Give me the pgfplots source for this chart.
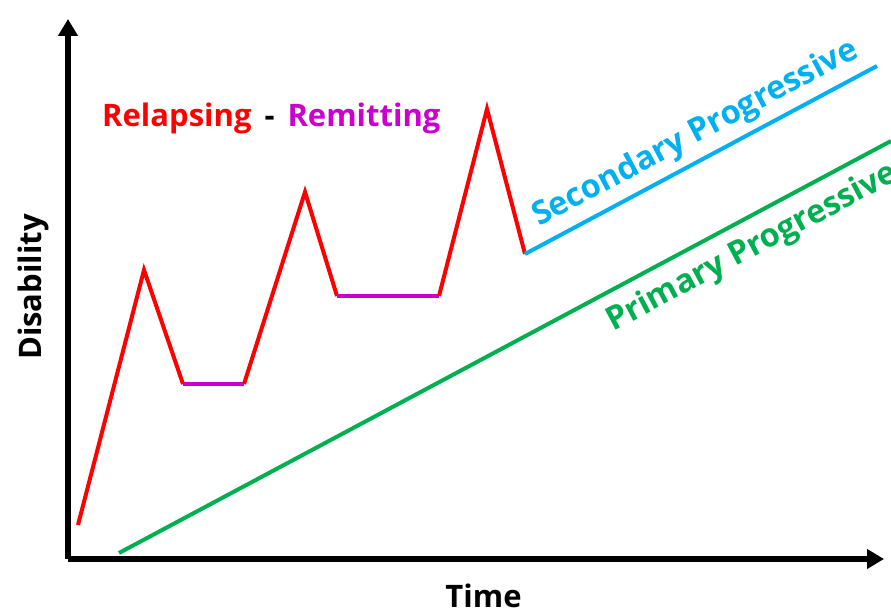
\documentclass[border=0pt]{standalone}
\usepackage{pgfplots}
\pgfplotsset{compat=1.18}
\usepackage{fontspec}
\setmainfont{Open Sans}
\usetikzlibrary{arrows.meta}
\definecolor{rr}{HTML}{FF0000}
\definecolor{mm}{HTML}{CC00CC}
\definecolor{bb}{HTML}{00B0F0}
\definecolor{gg}{HTML}{00B050}
\newcommand{\bigf}{\fontsize{31}{36}\selectfont\bfseries}
\newcommand{\rotf}{\fontsize{32.5}{38}\selectfont\bfseries}
\begin{document}
\begin{tikzpicture}
\useasboundingbox (-68pt,-53pt) rectangle (823pt,559pt);
\begin{axis}[
  x=1pt, y=1pt,
  xmin=68, xmax=884, ymin=53, ymax=593,
  axis x line=bottom, axis y line=left,
  axis line style={line width=6pt, -{Triangle[length=17pt,width=19pt]}},
  ticks=none, clip=false,
]
% Relapsing-remitting
\addplot[rr, line width=4pt] coordinates {(78,87) (144,342) (183,228)};
\addplot[mm, line width=4pt] coordinates {(183,228) (244,228)};
\addplot[rr, line width=4pt] coordinates {(244,228) (305,420) (337,316)};
\addplot[mm, line width=4pt] coordinates {(337,316) (439,316)};
\addplot[rr, line width=4pt] coordinates {(439,316) (487,503) (525,358)};
% Secondary progressive
\addplot[bb, line width=4pt] coordinates {(525,358) (877,546)};
% Primary progressive
\addplot[gg, line width=4pt] coordinates {(119,59) (891,471)};
% texts
\node[anchor=base west, inner sep=0pt, font=\bigf] at (axis cs:102,485) {\textcolor{rr}{Relapsing}\hspace{13pt}-\hspace{13pt}\textcolor{mm}{Remitting}};
\node[anchor=base, inner sep=0pt, font=\bigf] at (axis cs:483.5,4) {Time};
\node[anchor=base, inner sep=0pt, rotate=90, font=\bigf] at (axis cs:42,325) {Disability};
\node[anchor=base west, inner sep=0pt, rotate=28, text=bb, font=\rotf] at (axis cs:539,385) {Secondary Progressive};
\node[anchor=base west, inner sep=0pt, rotate=28, text=gg, font=\rotf] at (axis cs:613,280) {Primary Progressive};
\end{axis}
\end{tikzpicture}
\end{document}
